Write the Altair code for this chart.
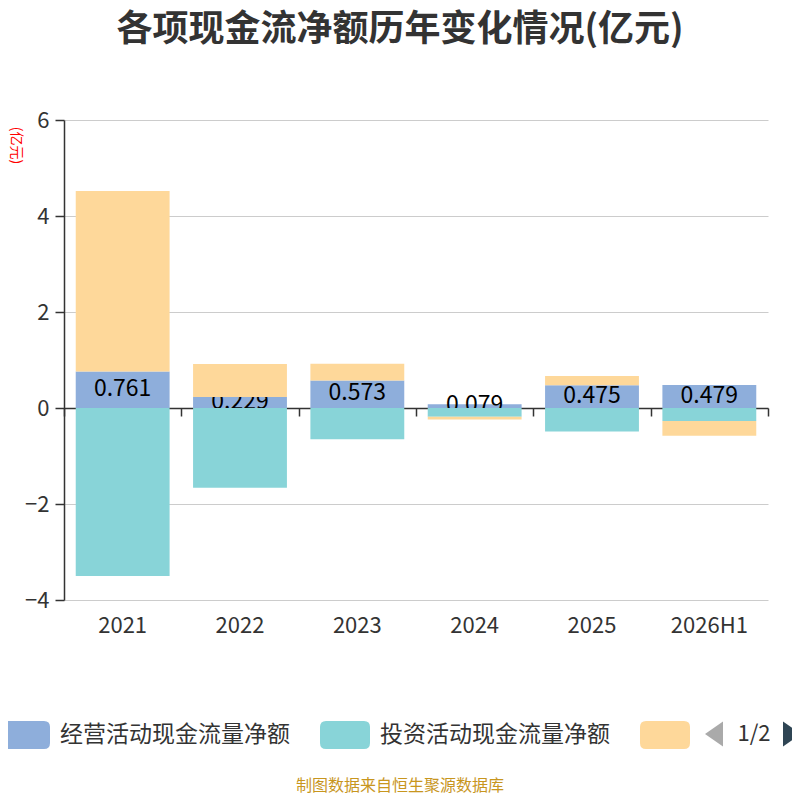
import altair as alt
import pandas as pd

years = ["2021", "2022", "2023", "2024", "2025", "2026H1"]
series_names = ["经营活动现金流量净额", "投资活动现金流量净额", "筹资活动现金流量净额"]
op_vals = [0.761, 0.229, 0.573, 0.079, 0.475, 0.479]
inv_vals = [-3.50, -1.66, -0.65, -0.18, -0.49, -0.27]
fin_vals = [3.76, 0.69, 0.35, -0.06, 0.19, -0.31]
colors = ["#8eaedb", "#88d4d8", "#fed89a"]
y_ticks = [-4, -2, 0, 2, 4, 6]

FONT = "Noto Sans CJK SC"

# stacked positions (positives and negatives stacked separately, like the source)
rows = []
for i, yr in enumerate(years):
    pos, neg = 0.0, 0.0
    for name, vals in zip(series_names, [op_vals, inv_vals, fin_vals]):
        v = vals[i]
        if v >= 0:
            y0, y1 = pos, pos + v
            pos = y1
        else:
            y0, y1 = neg, neg + v
            neg = y1
        rows.append({"year": yr, "series": name, "value": v, "y0": y0, "y1": y1})
df = pd.DataFrame(rows)

lab = pd.DataFrame({"year": years, "op": op_vals})
lab["mid"] = lab["op"] / 2
lab["txt"] = [f"{v:.3f}" for v in op_vals]

path_rr = ("M-0.76,-0.56 L0.76,-0.56 Q1,-0.56 1,-0.32 L1,0.32 Q1,0.56 0.76,0.56 "
           "L-0.76,0.56 Q-1,0.56 -1,0.32 L-1,-0.32 Q-1,-0.56 -0.76,-0.56 Z")

x_main = alt.X("year:N", sort=years,
               scale=alt.Scale(paddingInner=0.2, paddingOuter=0.1),
               axis=alt.Axis(title=None, domain=False, ticks=False, grid=False,
                             labelFontSize=22, labelColor="#333", labelFont=FONT,
                             labelPadding=15, labelAngle=0))

y_main = alt.Y("y0:Q",
               scale=alt.Scale(domain=[-4, 6], nice=False, zero=False),
               axis=alt.Axis(title="(亿元)", values=y_ticks, grid=True, gridColor="#cccccc",
                             gridWidth=1, domain=True, domainColor="#333", domainWidth=1.5,
                             ticks=True, tickColor="#333", tickSize=9, tickWidth=1.5,
                             labelFontSize=22, labelColor="#333", labelFont=FONT,
                             labelPadding=6,
                             titleAngle=90, titleX=-49, titleY=25, titleAlign="center",
                             titleBaseline="middle", titleColor="red", titleFontSize=14,
                             titleFont=FONT, titleFontWeight="normal"))

color_enc = alt.Color("series:N",
                      scale=alt.Scale(domain=series_names, range=colors),
                      legend=alt.Legend(title=None, orient="none", legendX=-64, legendY=590,
                                        direction="horizontal", symbolType=path_rr,
                                        symbolSize=2500, symbolStrokeWidth=0,
                                        symbolOpacity=1, labelFontSize=23,
                                        labelColor="#333", labelFont=FONT, labelOffset=10,
                                        columnPadding=30, labelLimit=400, padding=0,
                                        labelExpr="datum.label == '筹资活动现金流量净额' ? '' : datum.label"))


def bar_layer(name):
    return alt.Chart(df).transform_filter(alt.datum.series == name).mark_bar().encode(
        x=x_main, y=y_main, y2="y1:Q", color=color_enc)


op_bar = bar_layer(series_names[0])
inv_bar = bar_layer(series_names[1])
fin_bar = bar_layer(series_names[2])

text_layer = alt.Chart(lab).mark_text(fontSize=23, font=FONT, color="#000",
                                      baseline="middle", dy=-1).encode(
    x=alt.X("year:N", sort=years), y=alt.Y("mid:Q"), text="txt:N")

one = pd.DataFrame({"t": ["制图数据来自恒生聚源数据库"]})
footer = alt.Chart(one).mark_text(fontSize=16, font=FONT, color="#c8961e",
                                  baseline="middle", align="center").encode(
    x=alt.value(336), y=alt.value(666), text="t:N")

pager_df = pd.DataFrame({"t": ["1/2"]})
pager = alt.Chart(pager_df).mark_text(fontSize=22, font=FONT, color="#333",
                                      baseline="middle", align="center").encode(
    x=alt.value(690), y=alt.value(614), text="t:N")

arrow_l = alt.Chart(pager_df).mark_point(shape="M1,-1.4 L-1,0 L1,1.4 Z", filled=True,
                                         size=324, opacity=1, color="#aaaaaa").encode(
    x=alt.value(650), y=alt.value(614))
arrow_r = alt.Chart(pager_df).mark_point(shape="M-1,-1.4 L1,0 L-1,1.4 Z", filled=True,
                                         size=324, opacity=1, color="#2f4554").encode(
    x=alt.value(728), y=alt.value(614))

inner = alt.layer(op_bar, text_layer, inv_bar, fin_bar, footer, pager, arrow_l, arrow_r)

zero_axis = alt.Chart(pd.DataFrame({"year": years})).mark_point(opacity=0).encode(
    x=alt.X("year:N", sort=years,
            scale=alt.Scale(type="band", paddingInner=0, paddingOuter=0),
            axis=alt.Axis(title=None, orient="bottom", offset=-192, labels=False,
                          domain=True, domainColor="#333", domainWidth=1.5,
                          ticks=True, tickBand="extent", tickSize=8, tickColor="#333",
                          tickWidth=1.5, grid=False)),
    y=alt.value(288))

chart = alt.layer(inner, zero_axis).resolve_scale(x="independent").properties(
    width=704, height=480,
    autosize=alt.AutoSizeParams(type="none"),
    padding={"left": 56, "top": 112, "right": 24, "bottom": 196},
    title=alt.TitleParams("各项现金流净额历年变化情况(亿元)", fontSize=36, fontWeight="bold",
                          color="#333", font=FONT, anchor="middle", dx=-16, offset=60),
).configure_view(stroke=None)

chart.save("out.html", embed_options={"renderer": "svg", "actions": False})
